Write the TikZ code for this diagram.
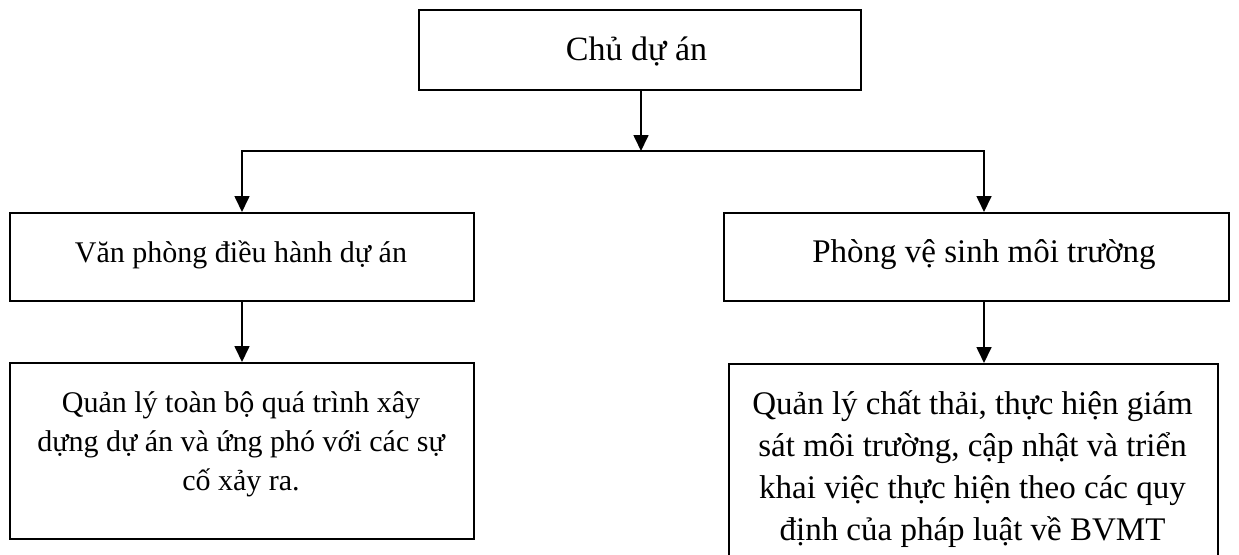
\documentclass[tikz,border=0pt]{standalone}
\usepackage{fontspec}
\setmainfont{Liberation Serif}
\usetikzlibrary{arrows.meta}
\begin{document}
\begin{tikzpicture}[x=1pt,y=-1pt,
  box/.style={draw,line width=2pt,inner sep=0pt,anchor=north west},
  txt/.style={inner sep=0pt,align=center,anchor=base,font=\fontsize{30}{39}\selectfont},
  bigtxt/.style={txt,font=\fontsize{33}{41.7}\selectfont},
  arr/.style={line width=1.7pt,-{Triangle[length=16pt,width=15pt]}}]
\useasboundingbox (0,0) rectangle (1239,554);
\clip (0,0) rectangle (1239,554);
% boxes
\node[box,minimum width=442pt,minimum height=80pt] (top) at (418,9) {};
\node[box,minimum width=464pt,minimum height=88pt] (vp) at (9,212) {};
\node[box,minimum width=505pt,minimum height=88pt] (pv) at (723,212) {};
\node[box,minimum width=464pt,minimum height=176pt] (ql) at (9,362) {};
\node[box,minimum width=489pt,minimum height=240pt] (qr) at (728,363) {};
% texts (base anchor = last line's baseline)
\node[txt,font=\fontsize{34}{40}\selectfont] (ttop) at (636.5,60) {Chủ dự án};
\node[txt] (tvp) at (241,262) {Văn phòng điều hành dự án};
\node[bigtxt] (tpv) at (984,262) {Phòng vệ sinh môi trường};
\node[txt] (tql) at (241,490) {Quản lý toàn bộ quá trình xây\\dựng dự án và ứng phó với các sự\\cố xảy ra.};
\node[bigtxt] (tqr) at (972.5,540) {Quản lý chất thải, thực hiện giám\\sát môi trường, cập nhật và triển\\khai việc thực hiện theo các quy\\định của pháp luật về BVMT};
% connectors
\coordinate (split) at (641,151);
\coordinate (rdrop) at (984,151);
\draw[arr] (top.south -| split) -- (split);
\draw[arr] (split) -| (vp.north);
\draw[arr] (split) -- (rdrop) -- (rdrop |- pv.north);
\draw[arr] (vp.south) -- (ql.north);
\draw[arr] (rdrop |- pv.south) -- (rdrop |- qr.north);
\end{tikzpicture}
\end{document}
